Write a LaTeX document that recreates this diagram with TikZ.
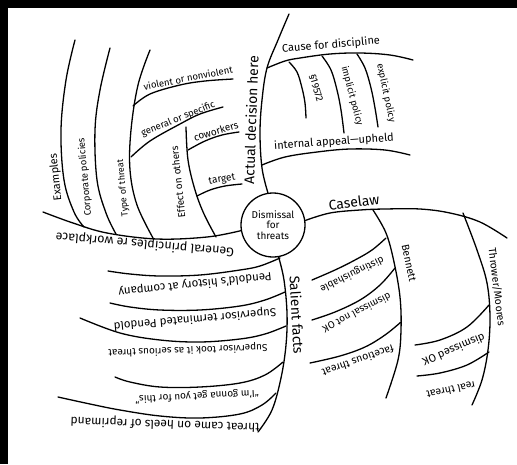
\documentclass[tikz,border=0pt]{standalone}
\usepackage{fontspec}
\setmainfont{Fira Sans}
\begin{document}
\begin{tikzpicture}[x=1pt,y=-1pt,
  br/.style={line width=1.3pt,line cap=round,line join=round},
  lb/.style={font=\fontsize{#1}{#1}\selectfont,inner sep=0pt},
  crv/.style={smooth,tension=0.6}]
\useasboundingbox (0,0) rectangle (517,464);
\fill[black] (0,0) rectangle (517,464);
\fill[white] (8,8) rectangle (517,464);

% centre
\node[draw,circle,line width=1.3pt,minimum size=64pt,inner sep=0pt,align=center,
  font=\fontsize{10}{10.5}\selectfont] (c) at (273,225) {Dismissal\\for\\threats};

% ---------- Actual decision here ----------
\draw[br] plot[crv] coordinates {(c.99) (262,168) (260,133) (262,100) (267,68) (278,40) (289,14)};
\node[lb=14,rotate=88] (act) at (251,120) {Actual decision here};
\draw[br] plot[crv] coordinates {(267,68) (285,61) (300,58) (330,54) (360,53) (390,55) (413,60)};
\node[lb=11,rotate=5] (cause) at (331,45) {Cause for discipline};
\draw[br] plot[crv] coordinates {(289,62) (297,72) (302,88) (305,103) (306,118)};
\node[lb=10,rotate=-74] (sec) at (316,88) {§19572};
\draw[br] plot[crv] coordinates {(322,56) (331,70) (337,90) (341,110) (344,133)};
\node[lb=9.5,rotate=-75] (impl) at (352,96) {implicit policy};
\draw[br] plot[crv] coordinates {(357,54) (365,68) (371,88) (375,108) (378,127)};
\node[lb=9.5,rotate=-78] (expl) at (386,93) {explicit policy};
\draw[br] plot[crv] coordinates {(262,165) (285,157) (317,152) (350,149) (385,150) (410,155)};
\node[lb=11,rotate=4] (appeal) at (334,142) {internal appeal—upheld};

% ---------- General principles re workplace ----------
\draw[br] plot[crv] coordinates {(c.190) (207,237) (157,239) (107,233) (73,223) (43,212)};
\node[lb=12.5,rotate=175] (gen) at (145,244) {General principles re workplace};
\draw[br] plot[crv] coordinates {(75,40) (66,80) (61,130) (64,180) (74,212) (84,227)};
\node[lb=11,rotate=96] (exa) at (56,177) {Examples};
\draw[br] plot[crv] coordinates {(110,48) (100,90) (95,130) (97,180) (106,213) (116,234)};
\node[lb=9.5,rotate=95] (corp) at (85,177) {Corporate policies};
\draw[br] plot[crv] coordinates {(150,50) (138,85) (131,130) (130,170) (137,205) (153,238)};
\node[lb=9,rotate=95] (type) at (123,188) {Type of threat};
\draw[br] plot[crv] coordinates {(133,106) (150,94) (180,85) (205,81) (233,79)};
\node[lb=9.5,rotate=11] (viol) at (188,78) {violent or nonviolent};
\draw[br] plot[crv] coordinates {(131,157) (150,141) (180,124) (200,114) (223,107)};
\node[lb=9.5,rotate=22] (gs) at (178,119) {general or specific};
\draw[br] plot[crv] coordinates {(186,127) (188,160) (195,190) (204,214) (216,237)};
\node[lb=10,rotate=96] (eff) at (178,182) {Effect on others};
\draw[br] plot[crv] coordinates {(188,150) (205,141) (222,135) (239,132)};
\node[lb=10,rotate=17] (cow) at (216,131) {coworkers};
\draw[br] plot[crv] coordinates {(197,196) (210,190) (225,186) (242,184)};
\node[lb=10,rotate=10] (tgt) at (222,180) {target};

% ---------- Caselaw ----------
\draw[br] plot[crv] coordinates {(c.8) (330,213) (360,210) (385,209) (420,209) (450,213) (480,222) (507,238)};
\node[lb=14,rotate=7] (case) at (354,202) {Caselaw};
\draw[br] plot[crv] coordinates {(373,210) (386,233) (394,262) (400,297) (401,330) (398,360) (386,398)};
\node[lb=10.5,rotate=-78] (ben) at (409,263) {Bennett};
\draw[br] plot[crv] coordinates {(386,238) (372,250) (355,260) (335,270) (312,280)};
\node[lb=10,rotate=206] (dist) at (352,274) {distinguishable};
\draw[br] plot[crv] coordinates {(395,268) (380,285) (360,300) (335,312) (312,320)};
\node[lb=10,rotate=207] (dno) at (357,313) {dismissal not OK};
\draw[br] plot[crv] coordinates {(401,322) (385,335) (365,347) (340,356) (310,363)};
\node[lb=10.5,rotate=199] (fac) at (358,361) {facetious threat};
\draw[br] plot[crv] coordinates {(463,213) (477,250) (487,283) (490,317) (488,350) (482,380) (472,405)};
\node[lb=10.5,rotate=-83] (thr) at (497,287) {Thrower/Moores};
\draw[br] plot[crv] coordinates {(489,305) (467,327) (440,340) (415,345)};
\node[lb=11,rotate=203] (dok) at (454,350) {dismissed OK};
\draw[br] plot[crv] coordinates {(489,352) (467,365) (440,373) (417,376)};
\node[lb=10.5,rotate=192] (real) at (451,390) {real threat};

% ---------- Salient facts ----------
\draw[br] plot[crv] coordinates {(c.-80) (284,280) (287,313) (286,345) (281,378) (272,410) (258,432)};
\node[lb=14,rotate=-87] (sal) at (297,315) {Salient facts};
\draw[br] plot[crv] coordinates {(280,258) (260,266) (240,270) (200,275) (160,276) (130,274) (108,271)};
\node[lb=11.5,rotate=186] (hist) at (195,284) {Pendold's history at company};
\draw[br] plot[crv] coordinates {(285,292) (265,300) (240,306) (200,310) (160,310) (130,307) (110,303)};
\node[lb=11.5,rotate=185] (term) at (195,319) {Supervisor terminated Pendold};
\draw[br] plot[crv] coordinates {(286,326) (265,334) (240,339) (200,342) (160,340) (120,333) (80,318)};
\node[lb=10,rotate=182] (took) at (188,350) {Supervisor took it as serious threat};
\draw[br] plot[crv] coordinates {(283,362) (265,375) (240,383) (200,387) (160,387) (130,382) (115,377)};
\node[lb=10,rotate=183] (gon) at (197,396) {“I'm gonna get you for this”};
\draw[br] plot[crv] coordinates {(276,393) (262,405) (240,414) (200,418) (160,416) (120,410) (90,404) (58,397)};
\node[lb=12,rotate=178] (heel) at (165,424) {threat came on heels of reprimand};
\end{tikzpicture}
\end{document}
